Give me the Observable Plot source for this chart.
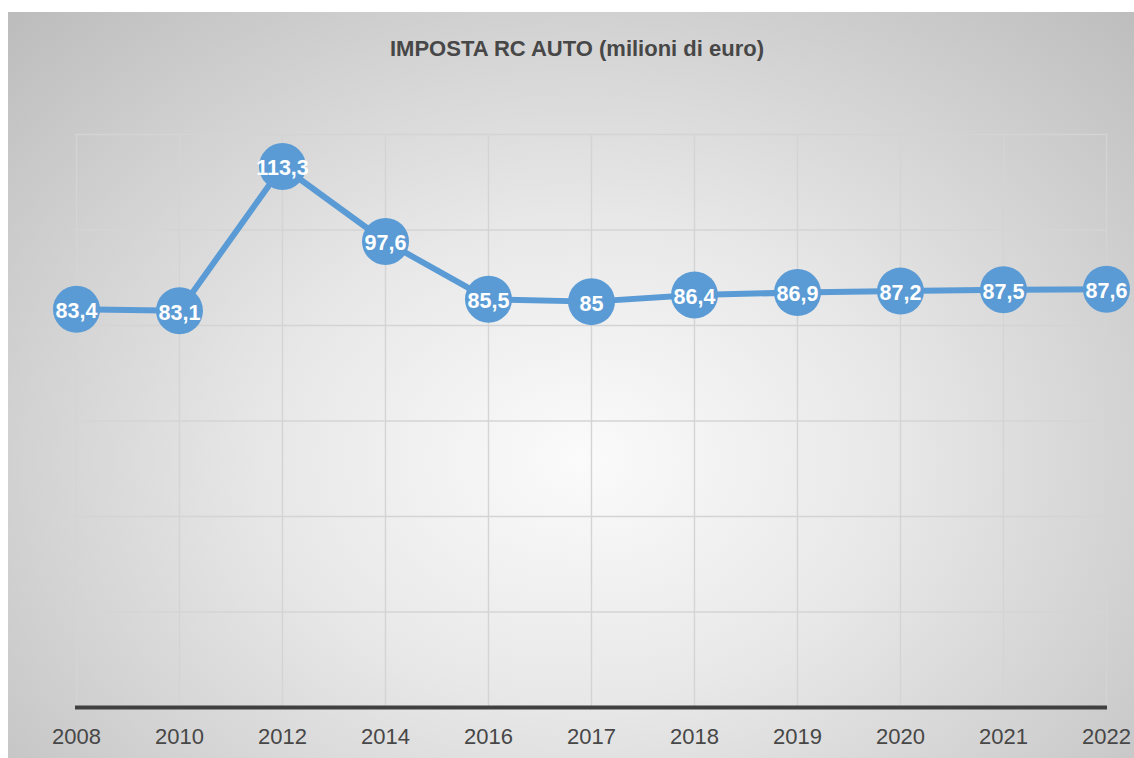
<!DOCTYPE html>
<html>
<head>
<meta charset="utf-8">
<script src="https://cdn.jsdelivr.net/npm/d3@7"></script>
<script src="https://cdn.jsdelivr.net/npm/@observablehq/plot@0.6"></script>
<style>
  html, body { margin: 0; padding: 0; background: #fff; }
  #wrap { position: relative; width: 1134px; height: 758px; overflow: hidden; }
  #bg { position: absolute; left: 8px; top: 12px; width: 1126px; height: 746px;
        background: radial-gradient(ellipse farthest-corner at 51% 60%, #fbfbfb 0%, #e8e8e8 38%, #bcbcbc 100%); }
  #title { position: absolute; left: 0; top: 38px; width: 1154px; text-align: center;
           font: bold 22px "Liberation Sans", Arial, sans-serif; line-height: 22px; color: #474747; }
  #chart { position: absolute; left: 0; top: 0; }
  #chart svg { background: transparent !important; }
</style>
</head>
<body>
<div id="wrap">
  <div id="bg"></div>
  <div id="chart"></div>
  <div id="title">IMPOSTA RC AUTO (milioni di euro)</div>
</div>
<script>
const years = ["2008","2010","2012","2014","2016","2017","2018","2019","2020","2021","2022"];
const values = [83.4, 83.1, 113.3, 97.6, 85.5, 85, 86.4, 86.9, 87.2, 87.5, 87.6];
const gridValues = [20, 40, 60, 80, 100, 120];

const data = years.map((y, i) => ({year: y, value: values[i], label: String(values[i]).replace(".", ",")}));

const plot = Plot.plot({
  width: 1134,
  height: 758,
  marginLeft: 75,
  marginRight: 27,
  marginTop: 134,
  marginBottom: 51,
  style: {background: "transparent", fontFamily: "'Liberation Sans', Arial, sans-serif"},
  x: {type: "point", domain: years, padding: 0},
  y: {domain: [0, 120], axis: null},
  marks: [
    Plot.ruleY(gridValues, {stroke: "#d4d4d4", strokeWidth: 1.4}),
    Plot.ruleX(years, {y1: 0, y2: 120, stroke: "#d4d4d4", strokeWidth: 1.4}),
    Plot.ruleY([0], {stroke: "#404040", strokeWidth: 4}),
    Plot.axisX({tickSize: 0, tickPadding: 21, fontSize: 22, fill: "#474747", label: null}),
    Plot.line(data, {x: "year", y: "value", stroke: "#5b9bd5", strokeWidth: 6}),
    Plot.dot(data, {x: "year", y: "value", r: 23.5, fill: "#5b9bd5", stroke: "none"}),
    Plot.text(data, {x: "year", y: "value", text: "label", fill: "white", fontWeight: "bold", fontSize: 21.5, dy: 2})
  ]
});
document.getElementById("chart").appendChild(plot);
</script>
</body>
</html>
